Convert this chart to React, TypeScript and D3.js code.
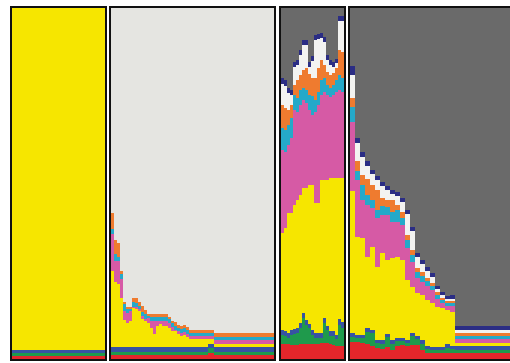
import React from "react";
import * as d3 from "d3";

// Layer order, bottom to top
const layerKeys = ["red", "green", "blue", "yellow", "pink", "cyan", "orange", "white", "navy"];
const layerColors: Record<string, string> = {
  red: "#e4262b",
  green: "#1f9a4c",
  blue: "#3753a2",
  yellow: "#f6e600",
  pink: "#d65aa5",
  cyan: "#25a9c9",
  orange: "#ef7b2f",
  white: "#f3f3f1",
  navy: "#2b2d84",
};

// Each row: [weight, red, green, blue, yellow, pink, cyan, orange, white, navy] (% of column)
const panel1Rows = [[1, 0.9, 0.9, 0.9, 97.3]];

const panel2Rows = [
  [1, 1, 1, 1.5, 21.6, 10.6, 1.4, 4.6],
  [1, 1, 1, 1.5, 18.5, 6.0, 2.0, 4.0],
  [1, 1, 1, 1.5, 18.0, 6.5, 1.1, 4.0],
  [1, 1, 1, 1.5, 14.0, 5.3, 1.4, 1.0],
  [1, 1, 1, 1.5, 7.5, 2.7, 2.0, 0.6],
  [1, 1, 1, 1.5, 6.8, 2.8, 1.1, 0.6],
  [1, 1, 1, 1.5, 7.4, 2.8, 0.6, 0.6],
  [1, 1, 1, 1.5, 11.1, 0.3, 1.4, 1.1],
  [1, 1, 1, 1.5, 10.8, 0.6, 1.1, 1.4],
  [1, 1, 1, 1.5, 10.2, 0.6, 0.9, 1.1],
  [1, 1, 1, 1.5, 7.9, 0.9, 1.1, 1.7],
  [1, 1, 1, 1.5, 7.4, 0.6, 1.4, 1.1],
  [1, 1, 1, 1.5, 6.8, 1.4, 0.6, 0.6],
  [1, 1, 1, 1.5, 5.4, 2.0, 1.1, 0.9],
  [1, 1, 1, 1.5, 3.6, 3.7, 1.1, 0.9],
  [1, 1, 1, 1.5, 5.9, 1.4, 1.1, 0.9],
  [1, 1, 1, 1.5, 6.5, 0.9, 1.1, 0.9],
  [2, 1, 1, 1.5, 5.9, 1.4, 1.1, 0.9],
  [1, 1, 1, 1.5, 5.4, 1.4, 1.1, 0.6],
  [1, 1, 1, 1.5, 4.5, 1.1, 1.1, 0.6],
  [1, 1, 1, 1.5, 4.5, 0.3, 1.1, 1.1],
  [1, 1, 1, 1.5, 3.6, 0.9, 0.9, 0.9],
  [1, 1, 1, 1.5, 3.1, 0.9, 1.1, 0.9],
  [1, 1, 1, 1.5, 3.4, 0.9, 1.1, 0.9],
  [1, 1, 1, 1.5, 2.8, 0.9, 1.1, 0.9],
  [6, 1, 1, 1.5, 2.2, 0.9, 0.9, 0.9],
  [2, 1.8, 1.2, 1.2, 1.5, 0.9, 0.9, 0.9],
  [20, 1, 1, 1.5, 0.9, 1.1, 0.9, 0.9],
];

const panel3Rows = [
  [1, 4.3, 2.6, 1.4, 27.6, 23.6, 6.3, 6.6, 6.0, 1.7],
  [1, 4.3, 2.3, 1.4, 29.3, 21.7, 6.3, 6.3, 6.3, 1.7],
  [1, 4.3, 1.7, 1.4, 34.2, 19.4, 5.7, 4.3, 4.8, 1.4],
  [1, 4.0, 2.8, 1.4, 33.3, 21.4, 5.7, 3.7, 2.8, 1.4],
  [1, 4.0, 3.1, 1.4, 35.3, 27.1, 4.3, 2.8, 5.1, 1.4],
  [1, 4.0, 3.4, 1.4, 36.5, 25.1, 4.0, 5.1, 4.3, 1.4],
  [1, 4.3, 4.6, 1.4, 36.5, 25.6, 4.3, 4.3, 5.7, 1.4],
  [1, 4.3, 7.4, 1.4, 35.6, 25.1, 3.4, 5.1, 7.1, 1.4],
  [1, 4.3, 5.4, 1.4, 37.6, 24.2, 3.7, 6.3, 6.6, 1.4],
  [1, 4.3, 4.6, 1.1, 39.6, 21.4, 4.3, 6.0, 2.0, 1.4],
  [1, 4.3, 2.6, 1.4, 41.3, 19.9, 5.4, 5.1, 4.8, 1.4],
  [1, 4.3, 1.7, 1.4, 37.0, 25.9, 3.4, 6.3, 10.8, 1.4],
  [1, 4.3, 1.7, 1.4, 37.0, 27.9, 3.7, 6.8, 8.5, 1.4],
  [1, 4.6, 1.4, 1.4, 43.6, 24.2, 4.3, 5.7, 6.3, 1.4],
  [1, 4.6, 5.7, 1.4, 39.3, 25.1, 4.0, 3.7, 6.6, 1.4],
  [1, 4.6, 3.7, 1.1, 41.6, 24.2, 2.8, 3.7, 3.4, 1.4],
  [1, 4.3, 2.3, 1.4, 43.6, 23.1, 2.6, 3.7, 2.8, 1.4],
  [1, 4.0, 2.6, 1.4, 43.6, 23.6, 2.8, 3.4, 1.7, 1.4],
  [1, 3.7, 2.0, 1.1, 44.7, 24.5, 3.4, 3.4, 1.4, 1.4],
  [1, 3.7, 6.0, 1.7, 40.2, 25.1, 4.3, 7.1, 8.3, 1.4],
  [1, 3.7, 5.1, 1.7, 41.0, 24.5, 4.0, 7.4, 8.8, 1.4],
];

const panel4Rows = [
  [1, 4.8, 1.4, 1.1, 40.7, 19.4, 4.3, 2.8, 6.3, 2.8],
  [1, 4.8, 1.1, 0.9, 27.9, 16.2, 2.8, 2.8, 5.1, 1.4],
  [1, 4.6, 1.4, 0.9, 27.6, 10.8, 4.3, 2.8, 5.1, 1.4],
  [1, 4.3, 3.4, 1.1, 20.2, 14.8, 2.8, 4.8, 3.7, 1.4],
  [1, 3.7, 3.7, 0.9, 23.6, 11.1, 2.3, 4.3, 3.1, 1.1],
  [1, 3.1, 1.4, 0.9, 20.8, 14.0, 2.3, 5.7, 2.8, 1.1],
  [1, 2.8, 1.4, 1.1, 24.8, 10.8, 2.8, 2.3, 3.4, 1.1],
  [1, 3.4, 2.8, 0.9, 21.1, 12.8, 2.3, 2.0, 2.8, 1.1],
  [1, 2.6, 1.7, 1.1, 23.4, 10.3, 2.8, 3.4, 1.7, 1.1],
  [1, 3.7, 1.4, 0.9, 23.1, 10.0, 3.4, 1.4, 2.6, 1.1],
  [1, 4.0, 1.1, 0.9, 22.2, 10.0, 2.0, 1.7, 2.8, 1.1],
  [1, 3.7, 0.9, 0.9, 17.1, 9.1, 2.3, 1.4, 6.0, 1.1],
  [1, 4.0, 2.6, 0.9, 13.1, 7.1, 2.0, 1.4, 5.4, 1.1],
  [1, 4.0, 1.7, 0.9, 12.3, 4.3, 1.7, 1.1, 3.1, 1.1],
  [1, 2.6, 1.7, 1.1, 12.8, 3.7, 1.7, 1.1, 2.3, 1.1],
  [1, 1.7, 1.1, 0.9, 13.1, 4.0, 1.4, 0.9, 2.0, 1.1],
  [1, 1.7, 0.9, 0.9, 12.5, 3.7, 1.1, 0.9, 1.7, 1.1],
  [1, 1.7, 0.9, 0.9, 11.4, 2.3, 0.9, 0.9, 0.9, 0.9],
  [1, 1.7, 0.9, 0.9, 11.1, 1.4, 0.9, 0.6, 0.6, 0.9],
  [1, 1.7, 1.4, 1.1, 9.7, 1.1, 0.9, 0.6, 0.6, 0.9],
  [1, 1.7, 1.1, 0.9, 9.7, 1.7, 0.9, 0.6, 0.6, 0.9],
  [12, 1.7, 1.0, 0.9, 1.0, 1.0, 0.9, 0.9, 1.0, 1.0],
];

const W = 510;
const H = 363;
const TOP = 8;
const BOTTOM = 359;

const panels = [
  { rows: panel1Rows, x0: 12, x1: 105, rest: "#f6e600" },
  { rows: panel2Rows, x0: 111, x1: 274, rest: "#e5e5e1" },
  { rows: panel3Rows, x0: 281, x1: 344, rest: "#6a6a6a" },
  { rows: panel4Rows, x0: 350, x1: 515, rest: "#6a6a6a" },
];

const allKeys = [...layerKeys, "other"];

function Panel({ rows, x0, x1, rest }: { rows: number[][]; x0: number; x1: number; rest: string }) {
  const data = rows.map((r) => {
    const o: Record<string, number> = {};
    let s = 0;
    layerKeys.forEach((k, i) => {
      const v = r[i + 1] ?? 0;
      o[k] = v;
      s += v;
    });
    o.other = Math.max(0, 100 - s);
    o.weight = r[0];
    return o;
  });
  const cum: number[] = [0];
  data.forEach((d) => cum.push(cum[cum.length - 1] + d.weight));
  const x = d3.scaleLinear().domain([0, cum[cum.length - 1]]).range([x0, x1]);
  const y = d3.scaleLinear().domain([0, 100]).range([BOTTOM, TOP]);
  const series = d3.stack<Record<string, number>>().keys(allKeys)(data);
  return (
    <g shapeRendering="crispEdges">
      {series.map((s) => (
        <g key={s.key} fill={s.key === "other" ? rest : layerColors[s.key]}>
          {s.map((seg, i) => {
            const h = y(seg[0]) - y(seg[1]);
            if (h <= 0) return null;
            return (
              <rect
                key={i}
                x={x(cum[i])}
                width={x(cum[i + 1]) - x(cum[i])}
                y={y(seg[1])}
                height={h}
              />
            );
          })}
        </g>
      ))}
      <rect
        x={x0 - 1}
        y={TOP - 1}
        width={x1 - x0 + 2}
        height={BOTTOM - TOP + 2}
        fill="none"
        stroke="#111"
        strokeWidth={2}
      />
    </g>
  );
}

export default function App() {
  return (
    <svg
      width={W}
      height={H}
      style={{ position: "absolute", left: 0, top: 0, background: "#fff" }}
    >
      {panels.map((p, i) => (
        <Panel key={i} {...p} />
      ))}
    </svg>
  );
}
